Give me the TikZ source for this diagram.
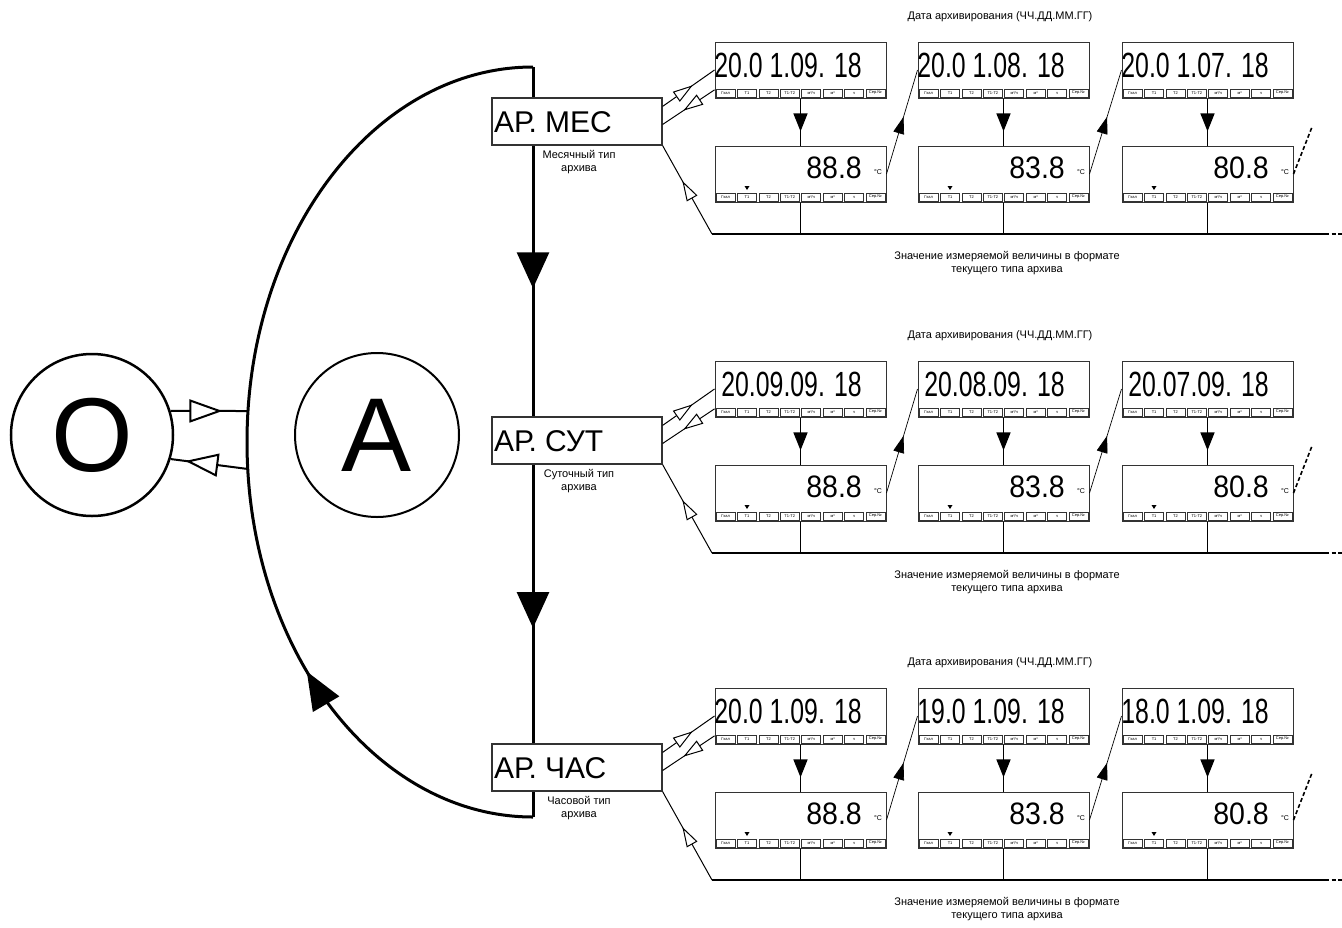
\documentclass[tikz,border=0pt]{standalone}
\usepackage{fontspec}
\setmainfont{Liberation Sans}
\newfontfamily\datefont[FakeStretch=0.71]{Liberation Sans}
\newfontfamily\valuefont[FakeStretch=0.92]{Liberation Sans}
\usetikzlibrary{arrows.meta,decorations.markings}

\tikzset{
  panel/.style={draw=black!80, line width=1pt, minimum width=171pt,
    minimum height=56pt, inner sep=0pt},
  cell/.style={draw=black!80, line width=0.6pt, minimum width=19pt,
    minimum height=8pt, inner sep=0pt, font=\fontsize{4}{4}\selectfont},
  datetext/.style={inner sep=0pt, font=\datefont\fontsize{35}{35}\selectfont},
  valuetext/.style={inner sep=0pt, font=\valuefont\fontsize{31}{31}\selectfont},
  unittext/.style={inner sep=0pt, font=\fontsize{7}{7}\selectfont},
  modebox/.style={draw=black!80, fill=white, line width=1.2pt,
    minimum width=170pt, minimum height=47pt, inner sep=0pt},
  modetext/.style={inner sep=0pt, font=\fontsize{30}{30}\selectfont},
  note/.style={inner sep=0pt, align=center, font=\fontsize{11}{13}\selectfont},
  bigletter/.style={circle, draw, line width=2.5pt, minimum size=162pt,
    inner sep=0pt, font=\fontsize{105}{105}\selectfont},
  loopline/.style={line width=3pt},
  link/.style={line width=1pt},
  nextlink/.style={line width=0.7pt},
  busline/.style={line width=1.5pt},
  moredash/.style={line width=1.6pt, dash pattern=on 4pt off 2.5pt},
  midopen/.style={postaction={decorate}, decoration={markings,
    mark=at position #1 with {\arrow{Triangle[fill=white, length=20pt, width=12pt]}}}},
  midopen/.default=0.6,
  bigopen/.style={postaction={decorate}, decoration={markings,
    mark=at position #1 with {\arrow{Triangle[fill=white, length=33pt, width=23pt]}}}},
  downhead/.style={postaction={decorate}, decoration={markings,
    mark=at position 0.7 with {\arrow{Triangle[length=18pt, width=14pt]}}}},
  uphead/.style={postaction={decorate}, decoration={markings,
    mark=at position 0.55 with {\arrow{Triangle[length=17pt, width=11pt]}}}},
  mainheads/.style={postaction={decorate}, decoration={markings,
    mark=at position 0.295 with {\arrow{Triangle[length=36pt, width=32pt]}},
    mark=at position 0.748 with {\arrow{Triangle[length=36pt, width=32pt]}}}},
  archead/.style={postaction={decorate}, decoration={markings,
    mark=at position 0.27 with {\arrow{Triangle[length=38pt, width=30pt]}}}}
}

% strip of indicator cells under a display
\newcommand{\panelstrip}[3]{%
  \foreach \lbl [count=\i from 0] in {Гкал,Т1,Т2,Т1-Т2,м³/ч,м³,ч,Сер.№}
    \node[cell] (#1c\i) at (#2+10.7+\i*21.375, #3) {\lbl};
}

% display with a date
\newcommand{\datepanel}[4]{%
  \node[panel] (#1) at (#2+85.5, #3+28) {};
  \node[datetext, anchor=east] (#1t) at (#2+147, #3+23.5) {#4};
  \panelstrip{#1}{#2}{#3+51}
}

% display with a measured value
\newcommand{\valuepanel}[4]{%
  \node[panel] (#1) at (#2+85.5, #3+28) {};
  \node[valuetext, anchor=east] (#1t) at (#2+147, #3+22) {#4};
  \node[unittext] (#1u) at (#2+163, #3+26) {°C};
  \fill (#2+29.5, #3+40) -- (#2+34.5, #3+40) -- (#2+32, #3+44) -- cycle;
  \panelstrip{#1}{#2}{#3+51}
}

% one archive type with its displays
\newcommand{\archiverow}[7]{%
  \node[note] (#1title) at (1000, #2+17) {Дата архивирования (ЧЧ.ДД.ММ.ГГ)};
  \node[modebox] (#1mode) at (577, #2+121.5) {};
  \node[modetext, anchor=west] (#1name) at (494, #2+122.5) {#3};
  \node[note] (#1cap) at (579, #2+162) {#4};

  \datepanel{#1d1}{715}{#2+42}{#5}
  \datepanel{#1d2}{918}{#2+42}{#6}
  \datepanel{#1d3}{1122}{#2+42}{#7}
  \valuepanel{#1v1}{715}{#2+146}{88.8}
  \valuepanel{#1v2}{918}{#2+146}{83.8}
  \valuepanel{#1v3}{1122}{#2+146}{80.8}

  \coordinate (#1bus) at (712, #2+234);
  \coordinate (#1end) at (1325, #2+234);
  \coordinate (#1tail) at (1342, #2+234);
  \coordinate (#1more) at (1312, #2+127);

  \node[note] (#1val) at (1007, #2+263)
    {Значение измеряемой величины в формате\\текущего типа архива};

  \draw[link, midopen=0.58] (#1mode.10) -- (#1d1.west);
  \draw[link, midopen=0.6] (#1d1.193) -- (#1mode.-2);
  \draw[link, midopen=0.6] (#1bus) -- (#1mode.south east);

  \draw[busline, downhead] (#1d1.south) -- (#1v1.north);
  \draw[busline, downhead] (#1d2.south) -- (#1v2.north);
  \draw[busline, downhead] (#1d3.south) -- (#1v3.north);

  \draw[nextlink, uphead] (#1v1.east) -- (#1d2.west);
  \draw[nextlink, uphead] (#1v2.east) -- (#1d3.west);
  \draw[moredash] (#1v3.east) -- (#1more);

  \draw[busline] (#1v1.south) -- (#1v1.south |- #1bus)
                 (#1v2.south) -- (#1v2.south |- #1bus)
                 (#1v3.south) -- (#1v3.south |- #1bus)
                 (#1bus) -- (#1end);
  \draw[moredash] (#1end) -- (#1tail);
}

\begin{document}
\begin{tikzpicture}[x=1pt, y=-1pt]
  \useasboundingbox (0,0) rectangle (1342,927);

  \node[bigletter] (O) at (92, 435) {О};
  \node[bigletter, line width=2pt, minimum size=164pt] (A) at (377, 435) {А};

  \coordinate (looptop) at (533, 67);
  \coordinate (loopbottom) at (533, 817);
  \coordinate (loopin) at (248, 411);
  \coordinate (loopout) at (248, 469);

  \draw[loopline, mainheads] (looptop) -- (loopbottom);
  \draw[loopline, archead] (loopbottom)
    arc[start angle=270, end angle=90, x radius=286pt, y radius=375pt];

  \draw[line width=2pt, bigopen=0.67] (O.17) -- (loopin);
  \draw[line width=2pt, bigopen=0.81] (loopout) -- (O.-17);

  \archiverow{mon}{0}{АР. МЕС}{Месячный тип\\архива}
    {20.0 1.09. 18}{20.0 1.08. 18}{20.0 1.07. 18}
  \archiverow{day}{319}{АР. СУТ}{Суточный тип\\архива}
    {20.09.09. 18}{20.08.09. 18}{20.07.09. 18}
  \archiverow{hour}{646}{АР. ЧАС}{Часовой тип\\архива}
    {20.0 1.09. 18}{19.0 1.09. 18}{18.0 1.09. 18}

\end{tikzpicture}
\end{document}
